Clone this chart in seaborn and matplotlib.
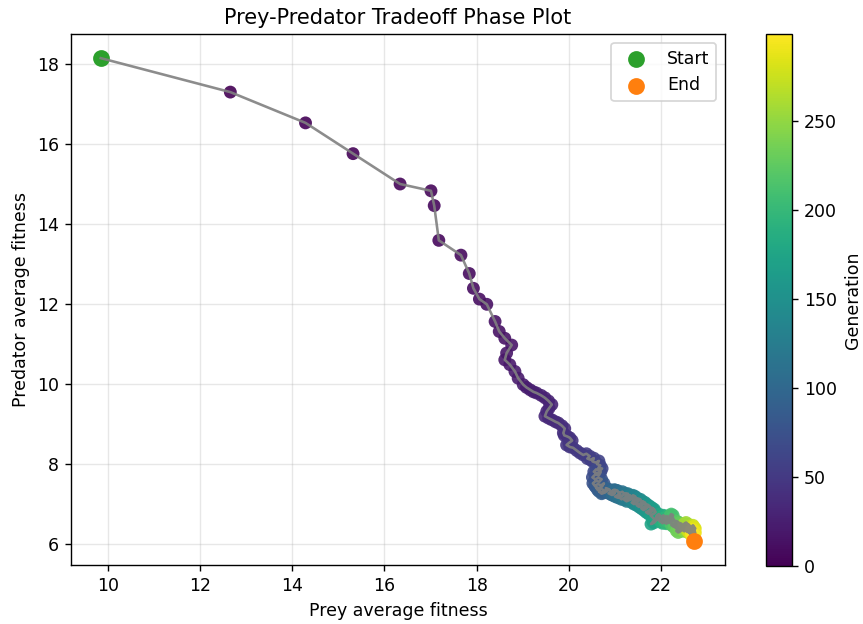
import matplotlib
matplotlib.use("Agg")
import numpy as np
import pandas as pd
import matplotlib.pyplot as plt
import seaborn as sns
from matplotlib.colors import Normalize
from matplotlib.cm import ScalarMappable

prey_fitness = [
    9.85, 12.66, 14.29, 15.32, 16.34, 17.01, 17.08, 17.18, 17.66, 17.84,
    17.93, 18.06, 18.22, 18.40, 18.49, 18.61, 18.76, 18.65, 18.61, 18.72,
    18.83, 18.90, 19.01, 19.08, 19.16, 19.23, 19.30, 19.40, 19.48, 19.56,
    19.63, 19.57, 19.52, 19.48, 19.56, 19.63, 19.71, 19.77, 19.85, 19.91,
    19.88, 19.90, 19.97, 20.02, 20.07, 20.00, 19.95, 20.02, 20.09, 20.17,
    20.24, 20.31, 20.38, 20.45, 20.40, 20.47, 20.54, 20.51, 20.58, 20.65,
    20.61, 20.68, 20.64, 20.72, 20.67, 20.59, 20.54, 20.61, 20.69, 20.65,
    20.57, 20.51, 20.57, 20.64, 20.71, 20.66, 20.58, 20.52, 20.56, 20.63,
    20.70, 20.76, 20.72, 20.65, 20.58, 20.62, 20.70, 20.77, 20.72, 20.65,
    20.71, 20.78, 20.84, 20.80, 20.87, 20.92, 20.86, 20.93, 20.99, 20.95,
    21.02, 21.01, 20.99, 20.94, 20.92, 20.98, 21.05, 21.09, 21.05, 21.00,
    21.06, 21.12, 21.10, 21.16, 21.20, 21.15, 21.09, 21.14, 21.20, 21.25,
    21.22, 21.28, 21.31, 21.26, 21.20, 21.25, 21.31, 21.36, 21.33, 21.28,
    21.32, 21.38, 21.42, 21.39, 21.44, 21.47, 21.42, 21.36, 21.41, 21.47,
    21.52, 21.49, 21.55, 21.58, 21.53, 21.47, 21.52, 21.58, 21.63, 21.60,
    21.65, 21.68, 21.62, 21.57, 21.62, 21.68, 21.73, 21.70, 21.75, 21.78,
    21.73, 21.67, 21.72, 21.78, 21.83, 21.80, 21.85, 21.88, 21.83, 21.77,
    21.81, 21.86, 21.82, 21.78, 21.84, 21.89, 21.93, 21.90, 21.95, 21.99,
    21.94, 21.89, 21.93, 21.98, 22.03, 22.00, 22.05, 22.09, 22.04, 21.99,
    22.03, 22.08, 22.12, 22.08, 22.13, 22.17, 22.12, 22.07, 22.11, 22.16,
    22.20, 22.17, 22.22, 22.18, 22.13, 22.18, 22.23, 22.27, 22.24, 22.19,
    22.22, 22.26, 22.23, 22.28, 22.32, 22.27, 22.22, 22.26, 22.31, 22.35,
    22.31, 22.36, 22.39, 22.34, 22.29, 22.33, 22.38, 22.42, 22.39, 22.44,
    22.47, 22.43, 22.38, 22.33, 22.37, 22.42, 22.46, 22.50, 22.47, 22.52,
    22.55, 22.51, 22.46, 22.50, 22.55, 22.58, 22.55, 22.59, 22.62, 22.58,
    22.53, 22.57, 22.61, 22.64, 22.60, 22.55, 22.50, 22.54, 22.58, 22.62,
    22.66, 22.63, 22.58, 22.62, 22.66, 22.69, 22.66, 22.62, 22.58, 22.54,
    22.57, 22.61, 22.65, 22.69, 22.72, 22.69, 22.65, 22.61, 22.64, 22.68,
    22.72, 22.70, 22.66, 22.70, 22.74, 22.71, 22.67, 22.70, 22.74, 22.72,
    22.68, 22.65, 22.69, 22.73, 22.70, 22.66, 22.69, 22.72, 22.70, 22.71,
]

predator_fitness = [
    18.15, 17.30, 16.53, 15.76, 15.00, 14.83, 14.46, 13.59, 13.22, 12.76,
    12.39, 12.12, 11.99, 11.56, 11.31, 11.14, 10.97, 10.77, 10.60, 10.48,
    10.31, 10.14, 9.98, 9.91, 9.85, 9.80, 9.77, 9.71, 9.65, 9.57,
    9.48, 9.39, 9.31, 9.19, 9.14, 9.10, 9.05, 9.02, 8.95, 8.88,
    8.77, 8.71, 8.68, 8.65, 8.58, 8.52, 8.47, 8.42, 8.40, 8.33,
    8.27, 8.22, 8.25, 8.19, 8.13, 8.10, 8.14, 8.06, 8.03, 8.07,
    7.99, 7.96, 7.90, 7.88, 7.82, 7.86, 7.80, 7.76, 7.79, 7.71,
    7.73, 7.66, 7.61, 7.65, 7.61, 7.55, 7.57, 7.51, 7.45, 7.49,
    7.46, 7.51, 7.43, 7.39, 7.42, 7.35, 7.37, 7.33, 7.28, 7.31,
    7.25, 7.28, 7.33, 7.39, 7.36, 7.30, 7.26, 7.22, 7.27, 7.33,
    7.31, 7.34, 7.26, 7.22, 7.29, 7.35, 7.33, 7.26, 7.21, 7.18,
    7.15, 7.20, 7.27, 7.30, 7.24, 7.19, 7.16, 7.11, 7.14, 7.20,
    7.26, 7.25, 7.18, 7.13, 7.10, 7.06, 7.09, 7.15, 7.21, 7.19,
    7.13, 7.10, 7.15, 7.21, 7.18, 7.11, 7.06, 7.03, 6.99, 7.02,
    7.08, 7.13, 7.11, 7.04, 6.99, 6.96, 6.92, 6.96, 7.01, 7.06,
    7.03, 6.96, 6.91, 6.88, 6.84, 6.88, 6.93, 6.98, 6.94, 6.87,
    6.82, 6.79, 6.75, 6.79, 6.84, 6.90, 6.86, 6.79, 6.74, 6.71,
    6.66, 6.61, 6.55, 6.49, 6.52, 6.58, 6.64, 6.70, 6.74, 6.68,
    6.63, 6.66, 6.60, 6.56, 6.61, 6.67, 6.71, 6.65, 6.59, 6.55,
    6.51, 6.55, 6.61, 6.66, 6.69, 6.63, 6.58, 6.55, 6.50, 6.53,
    6.58, 6.64, 6.67, 6.60, 6.56, 6.52, 6.55, 6.61, 6.66, 6.70,
    6.74, 6.71, 6.64, 6.58, 6.54, 6.50, 6.47, 6.43, 6.46, 6.52,
    6.57, 6.55, 6.49, 6.45, 6.42, 6.38, 6.41, 6.47, 6.52, 6.50,
    6.44, 6.39, 6.35, 6.32, 6.28, 6.31, 6.36, 6.41, 6.46, 6.49,
    6.43, 6.38, 6.35, 6.31, 6.34, 6.40, 6.45, 6.48, 6.42, 6.37,
    6.33, 6.29, 6.33, 6.38, 6.43, 6.47, 6.50, 6.53, 6.49, 6.45,
    6.40, 6.35, 6.31, 6.27, 6.30, 6.36, 6.41, 6.44, 6.41, 6.37,
    6.33, 6.37, 6.42, 6.46, 6.40, 6.34, 6.30, 6.27, 6.23, 6.26,
    6.31, 6.37, 6.40, 6.43, 6.38, 6.32, 6.28, 6.24, 6.27, 6.33,
    6.36, 6.32, 6.29, 6.30, 6.25, 6.22, 6.19, 6.22, 6.16, 6.07,
]

generation = list(range(len(prey_fitness)))

df = pd.DataFrame({"prey": prey_fitness, "predator": predator_fitness, "gen": generation})

DPI = 125
fig = plt.figure(figsize=(863 / DPI, 624 / DPI), dpi=DPI)
ax = fig.add_axes([71 / 863, 1 - 565 / 624, (725 - 71) / 863, (565 - 34) / 624])
cax = fig.add_axes([766 / 863, 1 - 566 / 624, 26 / 863, (566 - 34) / 624])

gmax = max(generation)
norm = Normalize(vmin=0, vmax=gmax)

sns.scatterplot(data=df, x="prey", y="predator", hue="gen", palette="viridis",
                hue_norm=norm, s=55, edgecolor="none", alpha=0.9,
                legend=False, ax=ax, zorder=2)
sns.lineplot(data=df, x="prey", y="predator", sort=False, estimator=None,
             color="gray", alpha=0.9, linewidth=1.5, ax=ax, zorder=3)

ax.scatter(prey_fitness[0], predator_fitness[0], color="tab:green", s=75,
           zorder=2.5, label="Start")
ax.scatter(prey_fitness[-1], predator_fitness[-1], color="tab:orange", s=75,
           zorder=4, label="End")

ax.set_title("Prey-Predator Tradeoff Phase Plot", fontsize=12)
ax.set_xlabel("Prey average fitness", fontsize=10)
ax.set_ylabel("Predator average fitness", fontsize=10)
ax.grid(True, alpha=0.3)
ax.legend(loc="upper right", fontsize=10)

sm = ScalarMappable(norm=norm, cmap="viridis")
sm.set_array([])
cb = fig.colorbar(sm, cax=cax)
cb.set_label("Generation", fontsize=10)
cb.set_ticks([0, 50, 100, 150, 200, 250])

fig.savefig("out.png", dpi=DPI)
